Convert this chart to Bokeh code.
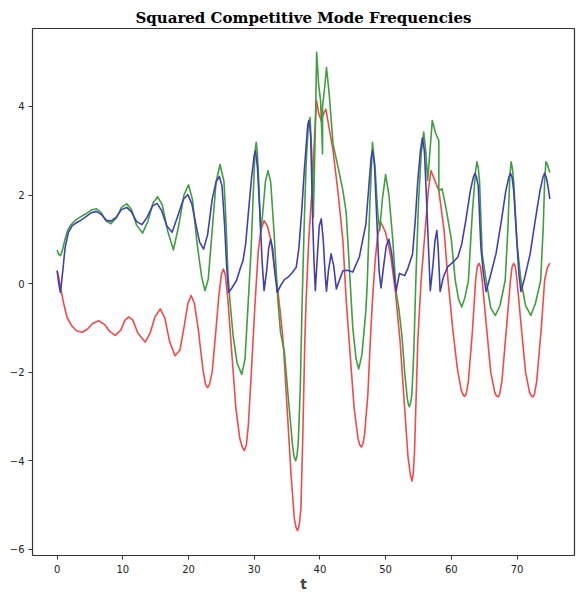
from bokeh.plotting import figure
from bokeh.models import Range1d, FixedTicker
from bokeh.embed import file_html
from bokeh.resources import INLINE

# ---- data ----
red_t = [0.0, 0.3, 0.6, 1.0, 1.5, 2.2, 3.0, 3.8, 4.6, 5.4, 6.3, 7.2, 8.0, 8.85, 9.7, 10.3, 10.9, 11.5,
         12.3, 13.4, 14.2, 14.9, 15.7, 16.4, 17.1, 17.95, 18.7, 19.3, 19.9, 20.4, 20.9, 21.5, 22.2,
         22.6, 22.9, 23.2, 23.6, 24.2, 24.6, 25.0, 25.3, 25.6, 26.0, 26.6, 27.2, 27.8, 28.2, 28.5,
         28.8, 29.1, 29.6, 30.1, 30.6, 31.0, 31.5, 32.0, 32.5, 33.0, 33.6, 34.0, 34.4, 35.0, 35.6,
         36.1, 36.35, 36.6, 36.85, 37.1, 37.4, 37.7, 37.9, 38.3, 38.9, 39.2, 39.5, 39.8, 40.2, 40.6,
         40.9, 41.3, 42.0, 42.8, 43.5, 44.0, 44.6, 45.2, 45.8, 46.05, 46.3, 46.55, 46.8, 47.3, 47.7,
         48.0, 48.4, 48.8, 49.3, 50.0, 50.8, 51.5, 52.2, 52.8, 53.4, 53.75, 54.0, 54.2, 54.4, 54.9,
         55.4, 56.1, 56.5, 56.9, 57.3, 57.7, 58.1, 58.9, 59.5, 60.2, 60.9, 61.5, 61.75, 62.0, 62.25,
         62.6, 63.2, 63.7, 63.95, 64.2, 64.45, 64.7, 65.3, 66.0, 66.6, 66.85, 67.1, 67.35, 67.7,
         68.4, 69.0, 69.25, 69.5, 69.75, 70.0, 70.6, 71.3, 71.9, 72.15, 72.4, 72.65, 73.0, 73.7,
         74.2, 74.6, 75.0]
red_y = [0.29, 0.1, -0.16, -0.45, -0.76, -0.95, -1.07, -1.1, -1.03, -0.9, -0.84, -0.92, -1.08, -1.17,
         -1.05, -0.83, -0.75, -0.82, -1.12, -1.32, -1.1, -0.75, -0.57, -0.78, -1.3, -1.63, -1.5, -1.0,
         -0.45, -0.27, -0.45, -1.05, -1.95, -2.28, -2.35, -2.27, -2.0, -1.0, -0.3, 0.2, 0.33, 0.2,
         -0.38, -1.6, -2.8, -3.5, -3.7, -3.77, -3.65, -3.2, -1.9, -0.5, 0.7, 1.2, 1.42, 1.3, 1.0,
         0.45, -0.16, -0.7, -1.29, -2.8, -4.3, -5.3, -5.5, -5.58, -5.45, -5.1, -3.4, -1.3, -0.38,
         1.0, 2.33, 3.4, 4.13, 3.85, 3.68, 3.85, 3.94, 3.6, 3.0, 2.0, 0.97, -0.38, -1.6, -2.8, -3.5,
         -3.64, -3.69, -3.62, -3.4, -2.5, -1.2, -0.38, 0.5, 1.1, 1.38, 1.15, 0.6, -0.2, -1.3, -2.6,
         -3.9, -4.3, -4.46, -4.3, -3.8, -1.29, 0.07, 1.35, 2.1, 2.55, 2.4, 2.25, 2.1, 1.2, 0.07,
         -1.0, -1.9, -2.4, -2.5, -2.55, -2.5, -2.2, -1.1, 0.07, 0.38, 0.46, 0.38, 0.07, -0.9, -2.0,
         -2.45, -2.53, -2.56, -2.5, -2.2, -1.0, 0.07, 0.38, 0.46, 0.38, 0.07, -0.9, -2.0, -2.45,
         -2.53, -2.56, -2.5, -2.2, -1.0, 0.07, 0.35, 0.46]

green_t = [0.0, 0.25, 0.5, 0.8, 1.2, 1.6, 2.0, 2.7, 3.5, 4.3, 5.2, 6.0, 6.7, 7.4, 8.2, 9.0, 9.8, 10.6,
           11.3, 12.1, 13.0, 13.8, 14.6, 15.3, 16.0, 16.8, 17.7, 18.5, 19.3, 20.0, 20.6, 21.3, 22.0,
           22.5, 23.0, 23.6, 24.2, 24.8, 25.4, 25.7, 26.0, 26.3, 26.8, 27.4, 28.1, 28.6, 29.1, 29.5,
           29.9, 30.1, 30.3, 30.45, 30.6, 31.0, 31.3, 31.7, 32.1, 32.5, 33.0, 33.6, 34.0, 34.6, 35.2,
           35.8, 36.05, 36.3, 36.5, 36.7, 37.0, 37.3, 37.6, 37.9, 38.2, 38.5, 38.8, 39.0, 39.3, 39.5,
           39.8, 40.1, 40.4, 40.4, 40.7, 41.0, 41.4, 42.0, 42.8, 43.5, 44.0, 44.5, 45.0, 45.5, 45.9,
           46.4, 47.0, 47.2, 47.6, 48.0, 48.4, 48.8, 49.1, 49.5, 50.0, 50.5, 51.1, 51.6, 52.0, 52.5,
           52.9, 53.3, 53.45, 53.6, 53.8, 54.0, 54.3, 54.6, 55.0, 55.4, 55.8, 56.1, 56.4, 56.7, 57.1,
           57.6, 58.1, 58.1, 58.6, 59.2, 60.0, 60.6, 61.1, 61.6, 62.1, 62.6, 63.2, 63.7, 63.9, 64.1,
           64.3, 64.7, 65.3, 66.0, 66.7, 67.4, 68.2, 68.6, 68.9, 69.1, 69.3, 69.5, 70.0, 70.6, 71.3,
           72.1, 72.8, 73.6, 74.0, 74.2, 74.4, 74.6, 74.8, 75.0]
green_y = [0.76, 0.66, 0.63, 0.75, 1.0, 1.2, 1.31, 1.42, 1.5, 1.57, 1.66, 1.69, 1.6, 1.42, 1.35, 1.48,
           1.72, 1.8, 1.68, 1.32, 1.14, 1.4, 1.82, 1.96, 1.78, 1.2, 0.76, 1.3, 2.0, 2.23, 1.9, 0.9,
           0.15, -0.16, 0.1, 1.2, 2.3, 2.69, 2.3, 1.4, 0.22, -0.38, -1.2, -1.8, -2.05, -1.7, -0.38,
           0.7, 2.2, 2.95, 3.19, 3.0, 2.6, 1.16, 1.6, 2.3, 2.55, 2.3, 1.2, -0.38, -1.1, -1.55, -2.6,
           -3.6, -3.9, -4.0, -3.9, -3.6, -2.4, -0.38, 1.3, 2.7, 3.5, 3.75, 2.8, 1.5, 3.5, 5.22, 4.5,
           4.13, 2.93, 4.0, 4.4, 4.88, 4.3, 3.15, 2.6, 2.1, 1.6, 0.3, -1.0, -1.7, -1.93, -1.6, -0.6,
           0.0, 1.8, 3.19, 2.6, 1.6, 1.2, 1.9, 2.46, 2.0, 0.97, -0.2, -0.55, -1.2, -2.0, -2.6, -2.72,
           -2.78, -2.7, -2.5, -1.5, 0.07, 1.8, 2.9, 3.42, 3.0, 2.33, 2.9, 3.68, 3.4, 3.23, 2.1, 2.14,
           1.7, 1.0, 0.07, -0.35, -0.53, -0.3, 0.07, 1.6, 2.55, 2.75, 2.62, 2.3, 0.67, 0.07, -0.55,
           -0.72, -0.5, 0.07, 1.2, 2.4, 2.75, 2.6, 2.3, 0.9, 0.07, -0.5, -0.72, -0.45, 0.07, 1.3, 2.3,
           2.75, 2.7, 2.6, 2.51]

blue_t = [0.0, 0.25, 0.5, 0.8, 1.2, 1.7, 2.3, 3.0, 3.5, 4.3, 5.2, 6.0, 6.8, 7.5, 8.2, 9.0, 9.8, 10.6,
          11.3, 12.1, 12.9, 13.7, 14.5, 15.2, 15.9, 16.7, 17.5, 18.3, 19.2, 19.9, 20.5, 21.3, 21.7,
          22.3, 22.9, 23.6, 24.2, 24.7, 25.1, 25.5, 25.8, 26.1, 26.6, 27.3, 27.9, 28.3, 28.7, 29.1,
          29.6, 30.0, 30.2, 30.5, 30.9, 31.2, 31.5, 31.9, 32.2, 32.5, 32.8, 33.1, 33.5, 34.0, 34.6,
          35.2, 35.8, 36.4, 36.8, 37.2, 37.6, 38.0, 38.15, 38.3, 38.45, 38.6, 38.9, 39.1, 39.3, 39.6,
          39.9, 40.2, 40.5, 40.8, 41.0, 41.3, 41.7, 42.1, 42.5, 42.9, 43.5, 44.2, 45.0, 46.0, 47.0,
          47.5, 47.8, 48.0, 48.3, 48.7, 49.0, 49.3, 49.7, 50.1, 50.5, 50.9, 51.3, 51.6, 52.1, 52.9,
          53.4, 54.1, 54.5, 54.9, 55.3, 55.6, 55.9, 56.2, 56.4, 56.8, 57.2, 57.5, 57.8, 58.0, 58.3,
          58.8, 59.4, 60.0, 60.5, 61.0, 61.6, 62.2, 62.9, 63.35, 63.6, 63.85, 64.1, 64.5, 64.9, 65.3,
          65.9, 66.8, 67.6, 68.3, 68.75, 69.0, 69.25, 69.5, 70.0, 70.3, 70.6, 71.2, 72.0, 72.8, 73.5,
          73.95, 74.2, 74.45, 74.6, 75.0]
blue_y = [0.29, 0.0, -0.2, 0.2, 0.8, 1.15, 1.31, 1.38, 1.42, 1.5, 1.6, 1.63, 1.55, 1.43, 1.41, 1.5,
          1.67, 1.72, 1.62, 1.4, 1.33, 1.5, 1.75, 1.81, 1.65, 1.3, 1.16, 1.5, 1.9, 2.01, 1.8, 1.2,
          0.93, 0.78, 1.1, 1.9, 2.3, 2.42, 2.2, 1.3, 0.4, -0.2, -0.1, 0.07, 0.35, 0.52, 0.9, 1.58,
          2.4, 2.9, 3.0, 2.6, 1.47, 0.5, -0.16, 0.3, 0.8, 1.0, 0.8, 0.3, -0.2, -0.05, 0.09, 0.15,
          0.25, 0.37, 0.8, 1.58, 2.5, 3.3, 3.58, 3.68, 3.58, 3.3, 1.42, 0.5, -0.16, 0.6, 1.3, 1.46,
          1.0, 0.2, -0.17, 0.3, 0.67, 0.4, -0.12, 0.05, 0.29, 0.3, 0.26, 0.6, 1.35, 2.3, 2.85, 3.0,
          2.7, 1.3, 0.3, -0.1, 0.4, 0.85, 1.0, 0.7, 0.2, -0.17, 0.23, 0.18, 0.35, 0.67, 1.4, 2.33,
          3.0, 3.29, 3.0, 2.0, 1.27, -0.16, 0.4, 0.95, 1.2, 0.8, -0.18, 0.15, 0.37, 0.45, 0.52, 0.6,
          0.9, 1.42, 2.1, 2.4, 2.49, 2.4, 2.2, 0.82, 0.2, -0.18, 0.15, 0.67, 1.4, 2.1, 2.4, 2.49,
          2.4, 2.1, 0.9, 0.2, -0.18, 0.15, 0.67, 1.45, 2.1, 2.4, 2.49, 2.4, 2.3, 1.91]

x_ticks = [0, 10, 20, 30, 40, 50, 60, 70]
y_ticks = [-6, -4, -2, 0, 2, 4]

p = figure(width=576, height=594, output_backend="svg", toolbar_location=None,
           x_range=Range1d(-3.75, 78.75), y_range=Range1d(-6.14, 5.76),
           min_border_left=32, min_border_right=2, min_border_top=28, min_border_bottom=39)

p.title.text = "Squared Competitive Mode Frequencies"
p.title.align = "center"
p.title.text_font = "DejaVu Serif"
p.title.text_font_size = "15px"
p.title.text_font_style = "bold"
p.title.text_color = "black"
p.title.standoff = 4

for xs, ys, col in ((red_t, red_y, "#f24a4a"), (green_t, green_y, "#3f9f3f"), (blue_t, blue_y, "#4040b0")):
    p.line(xs, ys, line_color=col, line_width=1.6, line_join="round")

p.xgrid.visible = False
p.ygrid.visible = False
p.outline_line_color = "#333333"
p.outline_line_width = 1.2

for ax in (p.xaxis[0], p.yaxis[0]):
    ax.minor_tick_line_color = None
    ax.major_tick_in = 0
    ax.major_tick_out = 4
    ax.major_label_text_font = "DejaVu Sans"
    ax.major_label_text_font_size = "10px"
    ax.major_label_text_color = "#222222"
    ax.axis_line_color = None
    ax.major_tick_line_color = "#333333"

p.xaxis[0].ticker = FixedTicker(ticks=x_ticks)
p.yaxis[0].ticker = FixedTicker(ticks=y_ticks)
p.xaxis[0].major_label_standoff = 5
p.yaxis[0].major_label_standoff = 4
p.xaxis[0].axis_label = "t"
p.xaxis[0].axis_label_text_font = "DejaVu Sans"
p.xaxis[0].axis_label_text_font_style = "bold"
p.xaxis[0].axis_label_text_font_size = "14px"
p.xaxis[0].axis_label_standoff = 0

open("out.html", "w").write(file_html(p, INLINE))
